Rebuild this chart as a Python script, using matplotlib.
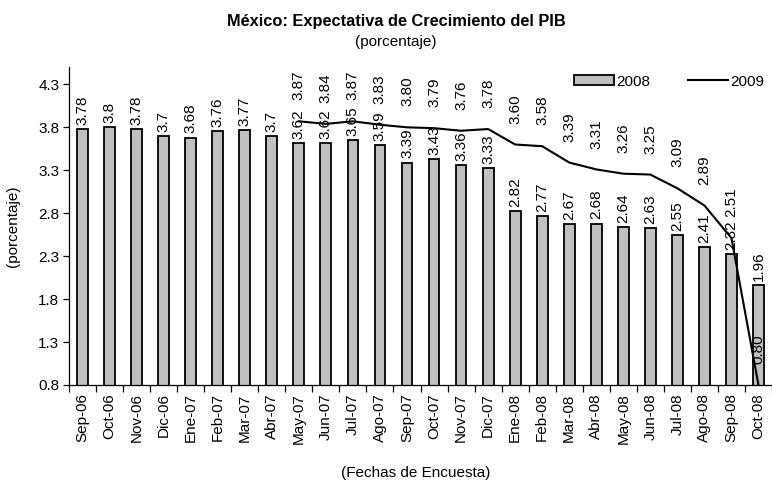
import matplotlib.pyplot as plt
import numpy as np

plt.rcParams['font.family'] = ['Liberation Sans', 'DejaVu Sans']

# fechas de encuesta
fechas = ['Sep-06', 'Oct-06', 'Nov-06', 'Dic-06', 'Ene-07', 'Feb-07', 'Mar-07', 'Abr-07',
          'May-07', 'Jun-07', 'Jul-07', 'Ago-07', 'Sep-07', 'Oct-07', 'Nov-07', 'Dic-07',
          'Ene-08', 'Feb-08', 'Mar-08', 'Abr-08', 'May-08', 'Jun-08', 'Jul-08', 'Ago-08',
          'Sep-08', 'Oct-08']

# expectativa 2008 (barras)
pib_2008 = [3.78, 3.8, 3.78, 3.7, 3.68, 3.76, 3.77, 3.7,
            3.62, 3.62, 3.65, 3.59, 3.39, 3.43, 3.36, 3.33,
            2.82, 2.77, 2.67, 2.68, 2.64, 2.63, 2.55, 2.41, 2.32, 1.96]

# expectativa 2009 (linea, empieza en May-07)
fechas_2009 = fechas[8:]
pib_2009 = [3.87, 3.84, 3.87, 3.83, 3.80, 3.79, 3.76, 3.78,
            3.60, 3.58, 3.39, 3.31, 3.26, 3.25, 3.09, 2.89, 2.51, 0.80]

yticks = [0.8, 1.3, 1.8, 2.3, 2.8, 3.3, 3.8, 4.3]

fs = 11

fig = plt.figure(figsize=(7.72, 4.8), dpi=100)
ax = fig.add_axes([0.0894, 0.198, 0.9106, 0.662])

x = np.arange(len(fechas))
x09 = np.array([fechas.index(f) for f in fechas_2009])

bars = ax.bar(x, pib_2008, width=0.4, color='#c0c0c0', edgecolor='black',
              linewidth=1.3, label='2008', zorder=2)
line, = ax.plot(x09, pib_2009, color='black', linewidth=1.5, label='2009', zorder=3)

# etiquetas de datos
for xi, v in zip(x, pib_2008):
    ax.annotate('%g' % v, (xi, v), xytext=(0, 3), textcoords='offset points',
                rotation=90, ha='center', va='bottom', fontsize=fs, annotation_clip=False)
for xi, v in zip(x09, pib_2009):
    ax.annotate('%.2f' % v, (xi, v), xytext=(0, 15), textcoords='offset points',
                rotation=90, ha='center', va='bottom', fontsize=fs, annotation_clip=False)

ax.set_xlim(-0.5, len(fechas) - 0.5)
ax.set_ylim(0.8, 4.5)
ax.set_yticks(yticks)
ax.set_yticklabels(['%.1f' % t for t in yticks], fontsize=fs)
ax.set_xticks(x)
ax.set_xticklabels(fechas, rotation=90, fontsize=fs)
ax.set_xticks(np.arange(len(fechas) + 1) - 0.5, minor=True)
ax.tick_params(axis='x', which='major', length=0, pad=6)
ax.tick_params(axis='x', which='minor', length=5, width=0.9, direction='out')
ax.tick_params(axis='y', length=4, width=0.9, direction='out', pad=3)

ax.spines['top'].set_visible(False)
ax.spines['right'].set_visible(False)
ax.spines['left'].set_linewidth(0.9)
ax.spines['bottom'].set_linewidth(0.9)

ax.set_ylabel('(porcentaje)', fontsize=fs, labelpad=13)
fig.text(0.538, 0.015, '(Fechas de Encuesta)', ha='center', va='center', fontsize=fs)

fig.text(0.513, 0.956, 'México: Expectativa de Crecimiento del PIB', ha='center',
         va='center', fontsize=11.75, fontweight='bold')
fig.text(0.513, 0.912, '(porcentaje)', ha='center', va='center', fontsize=fs)

fig.legend(handles=[bars, line], labels=['2008', '2009'], ncol=2, frameon=False,
           loc='center right', bbox_to_anchor=(1.008, 0.83), fontsize=fs,
           handlelength=2.6, handleheight=0.65, handletextpad=0.15, columnspacing=2.5)

fig.savefig('out.png', dpi=100)
